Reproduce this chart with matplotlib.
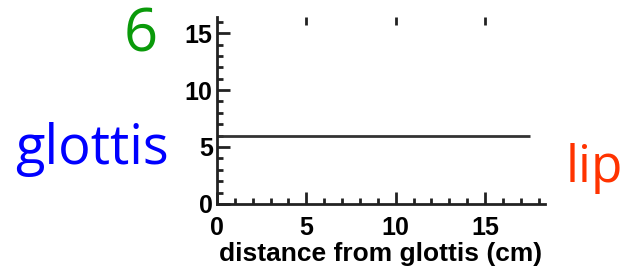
import matplotlib
matplotlib.use('Agg')
import matplotlib.pyplot as plt
from matplotlib.ticker import MultipleLocator

# tube area along the vocal tract (uniform tube)
distance = [0.0, 17.5]
area = [6.0, 6.0]

xlabel = 'distance from glottis (cm)'
area_label = '6'
left_label = 'glottis'
right_label = 'lip'

fig = plt.figure(figsize=(6.25, 2.69), dpi=100)
ax = fig.add_axes([0.347, 0.242, 0.525, 0.694])

ax.plot(distance, area, color='#333333', lw=2.0, solid_capstyle='butt')

ax.set_xlim(0, 18.35)
ax.set_ylim(0, 16.4)
ax.xaxis.set_major_locator(MultipleLocator(5))
ax.xaxis.set_minor_locator(MultipleLocator(1))
ax.yaxis.set_major_locator(MultipleLocator(5))
ax.yaxis.set_minor_locator(MultipleLocator(1))

for s in ('top', 'right'):
    ax.spines[s].set_visible(False)
for s in ('left', 'bottom'):
    ax.spines[s].set_linewidth(2.0)
    ax.spines[s].set_color('#222222')

ax.tick_params(which='major', direction='in', length=9, width=2, color='#222222',
               labelsize=18)
ax.tick_params(which='minor', direction='in', length=4, width=2, color='#222222')
ax.tick_params(axis='x', which='major', pad=9)
ax.tick_params(axis='y', which='major', pad=3)
for lab in ax.get_xticklabels() + ax.get_yticklabels():
    lab.set_fontfamily('Liberation Sans')
    lab.set_fontweight('bold')

# short marks along the top edge at the major x ticks
top = ax.secondary_xaxis('top')
top.set_xticks([5, 10, 15])
top.tick_params(direction='in', length=6, width=2, color='#222222', labeltop=False)
top.spines['top'].set_visible(False)

ax.set_xlabel(xlabel, fontsize=19, fontweight='bold', family='Liberation Sans', labelpad=1)

fig.text(0.252, 0.807, area_label, color='#0a9a0a', fontsize=43, family='Open Sans',
         ha='right', va='baseline')
fig.text(0.27, 0.39, left_label, color='#0000ff', fontsize=39, family='Open Sans',
         ha='right', va='baseline')
fig.text(0.905, 0.323, right_label, color='#ff3300', fontsize=37, family='Open Sans',
         ha='left', va='baseline')

fig.savefig('out.png', dpi=100)
